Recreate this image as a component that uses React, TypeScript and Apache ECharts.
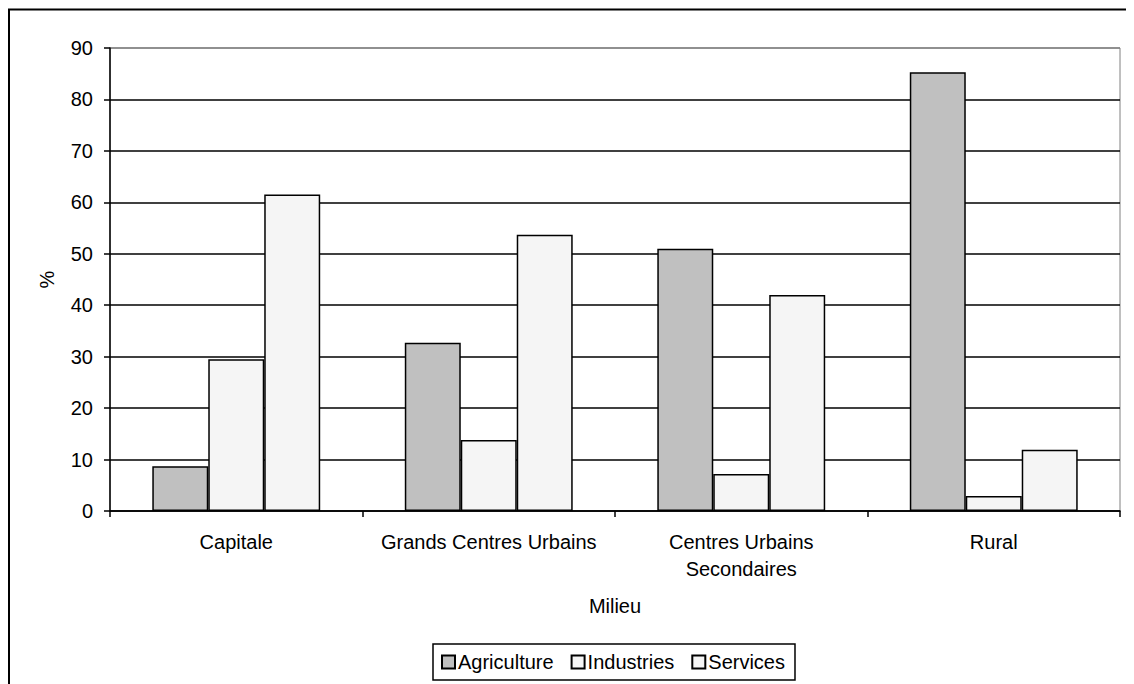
import React, { useEffect, useRef } from "react";
import * as echarts from "echarts";

const categories = ["Capitale", "Grands Centres Urbains", "Centres Urbains\nSecondaires", "Rural"];
const agriculture = [8.7, 32.7, 51.0, 85.3];
const industries = [29.5, 13.8, 7.2, 2.9];
const services = [61.5, 53.7, 42.0, 11.9];
const yTicks = { min: 0, max: 90, interval: 10 };

const FONT = "'Liberation Sans', Arial, sans-serif";
const FS = 20;

export default function App() {
  const ref = useRef<HTMLDivElement>(null);
  useEffect(() => {
    if (!ref.current) return;
    const chart = echarts.init(ref.current, null, { renderer: "svg" });
    const barStyle = (color: string) => ({ color, borderColor: "#000", borderWidth: 1.5 });
    chart.setOption({
      animation: false,
      backgroundColor: "#fff",
      textStyle: { fontFamily: FONT, color: "#000" },
      grid: {
        left: 102,
        right: 14,
        top: 40,
        bottom: 173,
        show: true,
        borderColor: "#808080",
        borderWidth: 1,
      },
      graphic: [
        {
          type: "rect",
          shape: { x: 1, y: 1.5, width: 2000, height: 2000 },
          style: { fill: "none", stroke: "#000", lineWidth: 2 },
          silent: true,
        },
      ],
      legend: {
        top: 636,
        left: 425,
        orient: "horizontal",
        itemWidth: 13,
        itemHeight: 13,
        itemGap: 17,
        padding: [8, 10, 8, 8],
        borderColor: "#000",
        borderWidth: 1.5,
        icon: "rect",
        textStyle: { fontFamily: FONT, fontSize: FS, color: "#000", padding: [0, 0, 0, -2] },
        data: ["Agriculture", "Industries", "Services"],
      },
      xAxis: {
        type: "category",
        data: categories,
        name: "Milieu",
        nameLocation: "middle",
        nameGap: 85,
        nameTextStyle: { fontFamily: FONT, fontSize: FS, color: "#000" },
        axisLine: { lineStyle: { color: "#000", width: 1.5 } },
        axisTick: { show: true, length: 6, lineStyle: { color: "#000", width: 1.5 } },
        axisLabel: { fontFamily: FONT, fontSize: FS, color: "#000", margin: 17, lineHeight: 27, interval: 0 },
        splitLine: { show: false },
      },
      yAxis: {
        type: "value",
        min: yTicks.min,
        max: yTicks.max,
        interval: yTicks.interval,
        name: "%",
        nameLocation: "middle",
        nameGap: 53,
        nameRotate: 90,
        nameTextStyle: { fontFamily: FONT, fontSize: FS, color: "#000" },
        axisLine: { show: true, lineStyle: { color: "#000", width: 1.5 } },
        axisTick: { show: true, length: 6, lineStyle: { color: "#000", width: 1.5 } },
        axisLabel: { fontFamily: FONT, fontSize: FS, color: "#000", margin: 17 },
        splitLine: {
          show: true,
          lineStyle: {
            color: ["#000", "#000", "#000", "#000", "#000", "#000", "#000", "#000", "#000", "#808080"],
            width: 1.5,
          },
        },
      },
      series: [
        { name: "Agriculture", type: "bar", data: agriculture, itemStyle: barStyle("#c0c0c0"), barGap: "0%", barCategoryGap: "33.5%" },
        { name: "Industries", type: "bar", data: industries, itemStyle: barStyle("#f5f5f5"), barGap: "0%", barCategoryGap: "33.5%" },
        { name: "Services", type: "bar", data: services, itemStyle: barStyle("#f5f5f5"), barGap: "0%", barCategoryGap: "33.5%" },
      ],
    });
    return () => chart.dispose();
  }, []);
  return <div ref={ref} style={{ width: 1126, height: 676 }} />;
}
